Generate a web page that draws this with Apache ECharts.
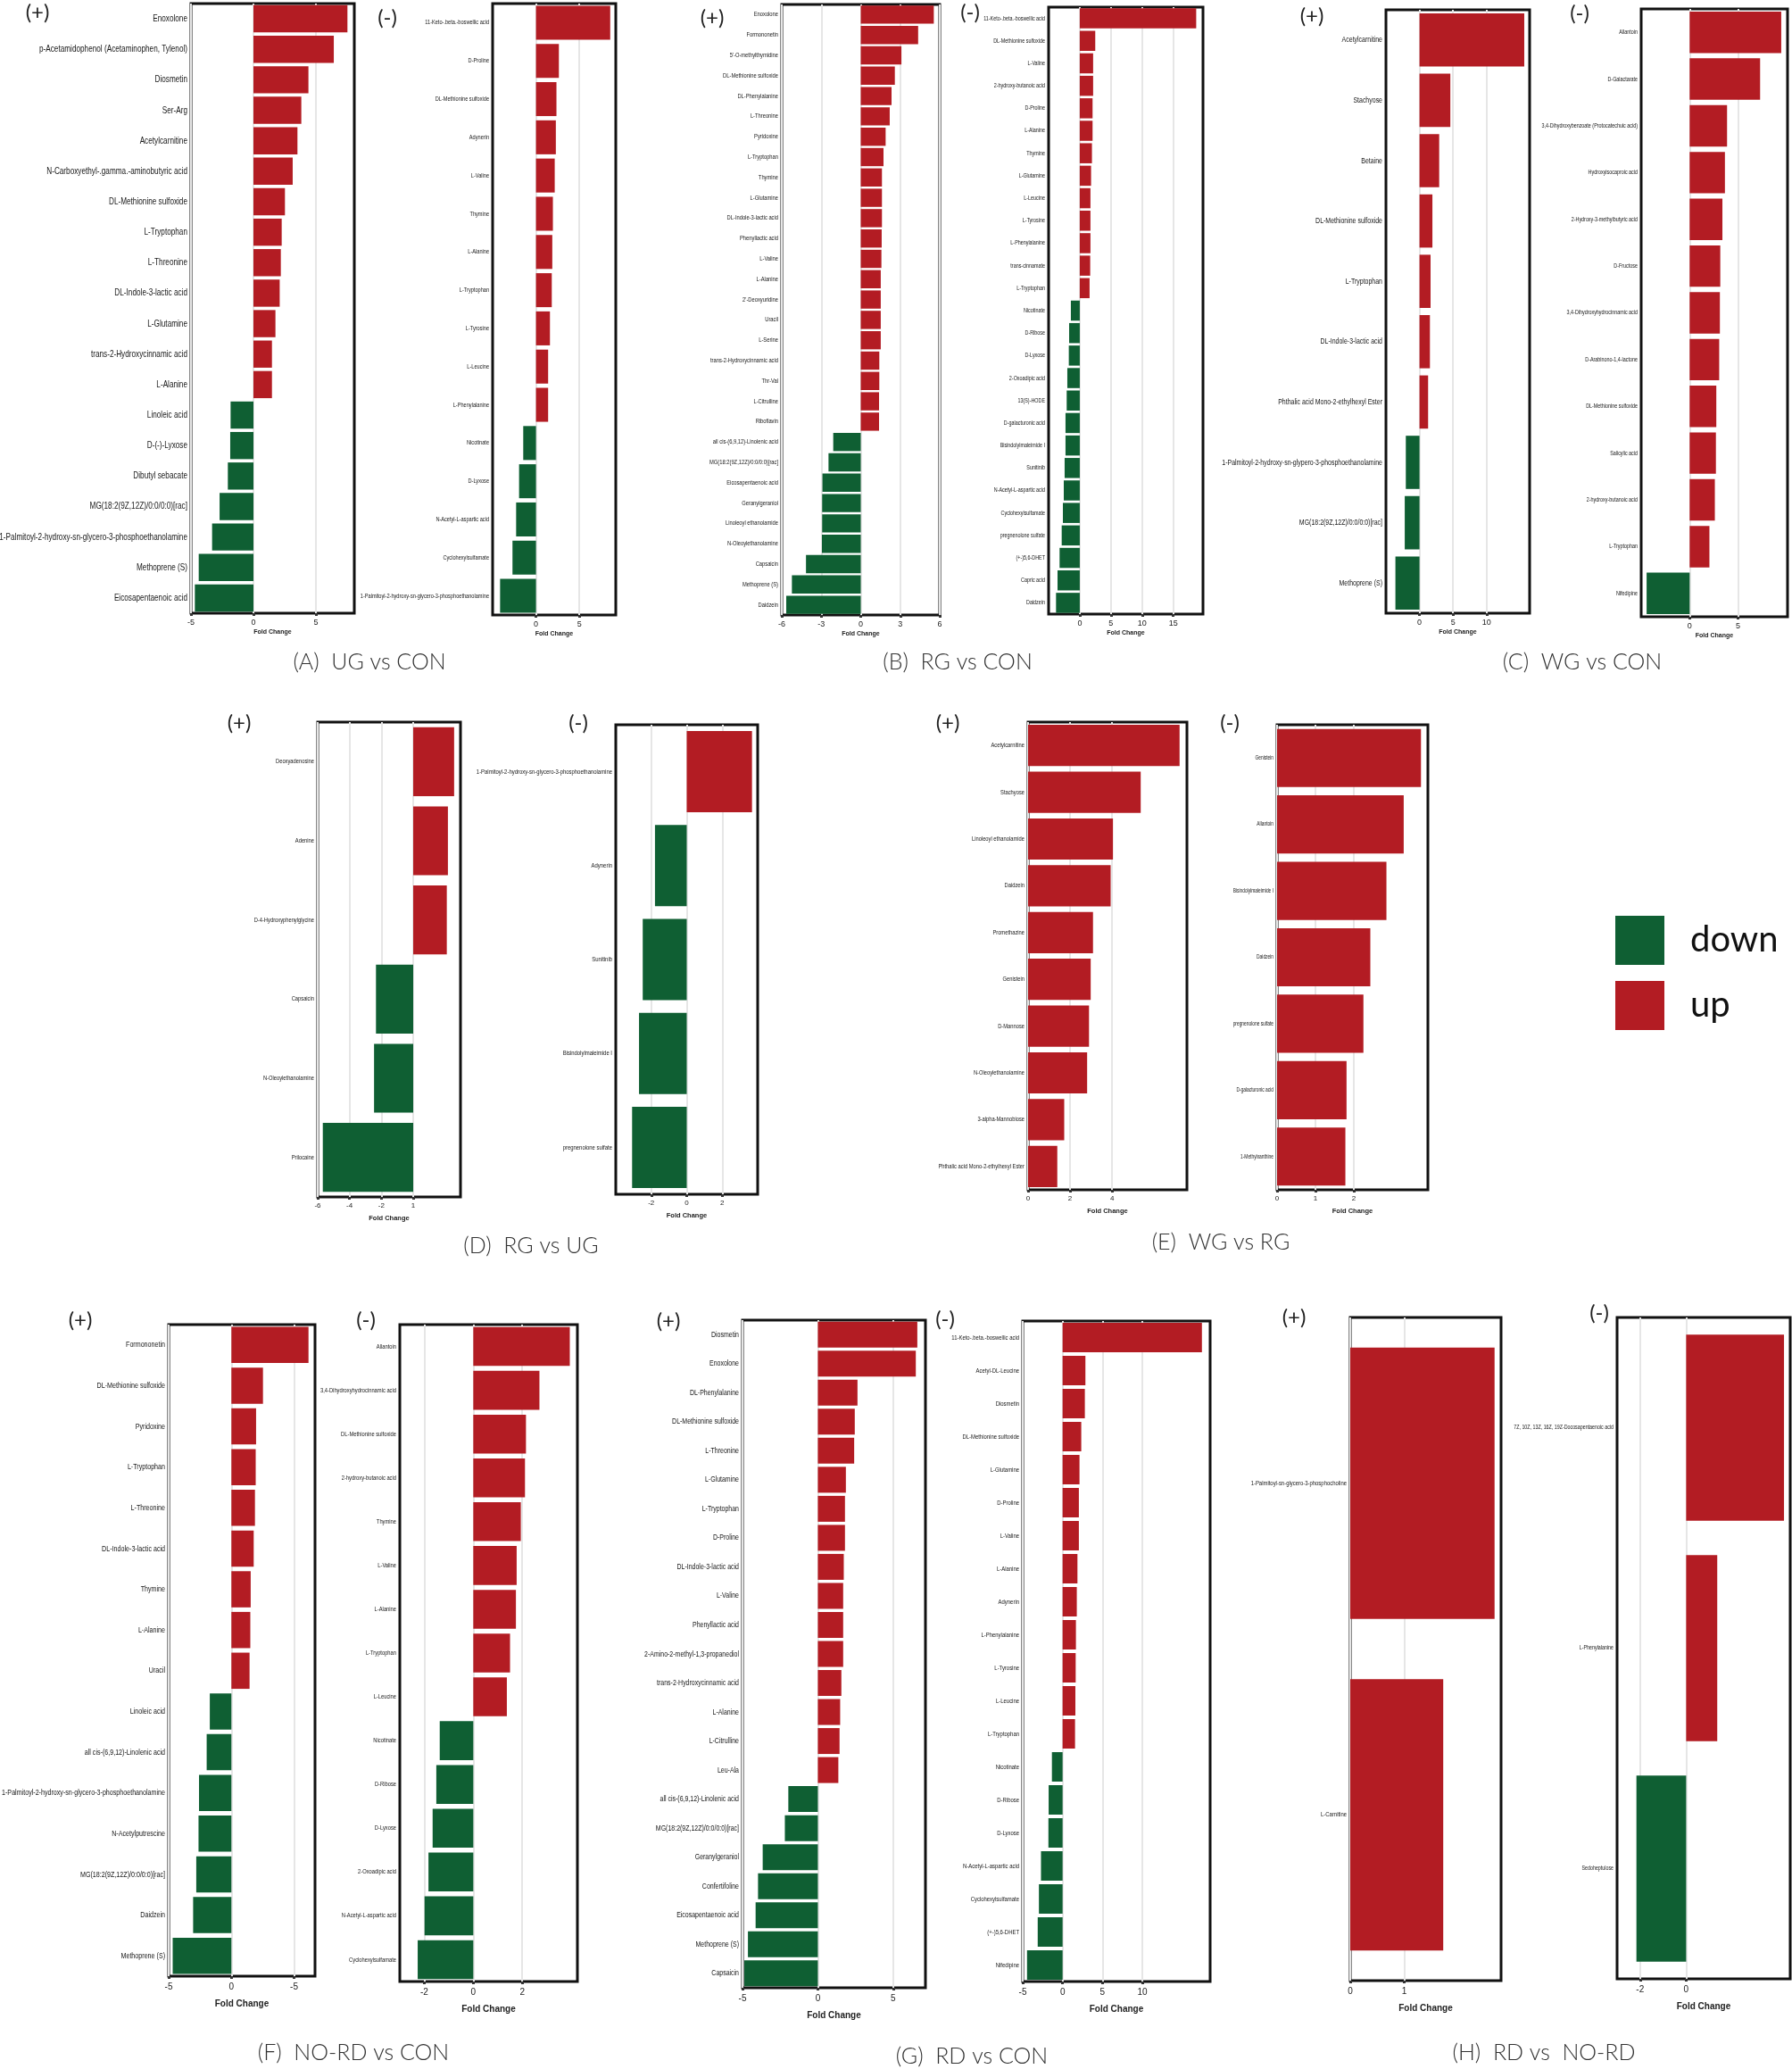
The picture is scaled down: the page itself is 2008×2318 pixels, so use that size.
<!DOCTYPE html>
<html>
<head>
<meta charset="utf-8">
<script src="https://cdn.jsdelivr.net/npm/echarts@6/dist/echarts.min.js"></script>
<style>
  html, body { margin: 0; padding: 0; background: #fff; }
  #main { width: 2008px; height: 2318px; }
</style>
</head>
<body>
<div id="main"></div>
<script>
// ---- data: fold change per metabolite ----
const ugConPosNames = ['Enoxolone', 'p-Acetamidophenol (Acetaminophen, Tylenol)', 'Diosmetin', 'Ser-Arg', 'Acetylcarnitine',
  'N-Carboxyethyl-.gamma.-aminobutyric acid', 'DL-Methionine sulfoxide', 'L-Tryptophan', 'L-Threonine', 'DL-Indole-3-lactic acid',
  'L-Glutamine', 'trans-2-Hydroxycinnamic acid', 'L-Alanine', 'Linoleic acid', 'D-(-)-Lyxose', 'Dibutyl sebacate',
  'MG(18:2(9Z,12Z)/0:0/0:0)[rac]', '1-Palmitoyl-2-hydroxy-sn-glycero-3-phosphoethanolamine', 'Methoprene (S)', 'Eicosapentaenoic acid'];
const ugConPosFC = [7.52, 6.43, 4.40, 3.83, 3.52, 3.14, 2.52, 2.26, 2.19, 2.10, 1.76, 1.48, 1.48, -1.83, -1.86, -2.05, -2.71, -3.31, -4.38, -4.69];

const ugConNegNames = ['11-Keto-.beta.-boswellic acid', 'D-Proline', 'DL-Methionine sulfoxide', 'Adynerin', 'L-Valine', 'Thymine',
  'L-Alanine', 'L-Tryptophan', 'L-Tyrosine', 'L-Leucine', 'L-Phenylalanine', 'Nicotinate', 'D-Lyxose', 'N-Acetyl-L-aspartic acid',
  'Cyclohexylsulfamate', '1-Palmitoyl-2-hydroxy-sn-glycero-3-phosphoethanolamine'];
const ugConNegFC = [8.56, 2.64, 2.36, 2.29, 2.16, 1.95, 1.88, 1.82, 1.61, 1.40, 1.40, -1.47, -1.95, -2.29, -2.71, -4.14];

const rgConPosNames = ['Enoxolone', 'Formononetin', "5'-O-methylthymidine", 'DL-Methionine sulfoxide', 'DL-Phenylalanine', 'L-Threonine',
  'Pyridoxine', 'L-Tryptophan', 'Thymine', 'L-Glutamine', 'DL-Indole-3-lactic acid', 'Phenyllactic acid', 'L-Valine', 'L-Alanine',
  "2'-Deoxyuridine", 'Uracil', 'L-Serine', 'trans-2-Hydroxycinnamic acid', 'Thr-Val', 'L-Citrulline', 'Riboflavin',
  'all cis-(6,9,12)-Linolenic acid', 'MG(18:2(9Z,12Z)/0:0/0:0)[rac]', 'Eicosapentaenoic acid', 'Geranylgeraniol',
  'Linoleoyl ethanolamide', 'N-Oleoylethanolamine', 'Capsaicin', 'Methoprene (S)', 'Daidzein'];
const rgConPosFC = [5.55, 4.36, 3.09, 2.59, 2.34, 2.20, 1.89, 1.73, 1.61, 1.61, 1.61, 1.59, 1.57, 1.52, 1.52, 1.52, 1.52, 1.41, 1.41, 1.39, 1.39,
  -2.09, -2.45, -2.91, -2.93, -2.93, -2.95, -4.16, -5.23, -5.66];

const rgConNegNames = ['11-Keto-.beta.-boswellic acid', 'DL-Methionine sulfoxide', 'L-Valine', '2-hydroxy-butanoic acid', 'D-Proline',
  'L-Alanine', 'Thymine', 'L-Glutamine', 'L-Leucine', 'L-Tyrosine', 'L-Phenylalanine', 'trans-cinnamate', 'L-Tryptophan', 'Nicotinate',
  'D-Ribose', 'D-Lyxose', '2-Oxoadipic acid', '13(S)-HODE', 'D-galacturonic acid', 'Bisindolylmaleimide I', 'Sunitinib',
  'N-Acetyl-L-aspartic acid', 'Cyclohexylsulfamate', 'pregnenolone sulfate', '(+-)5,6-DHET', 'Capric acid', 'Daidzein'];
const rgConNegFC = [18.67, 2.48, 2.14, 2.14, 2.05, 2.05, 1.95, 1.81, 1.71, 1.71, 1.71, 1.67, 1.57, -1.43, -1.71, -1.76, -2.00, -2.10, -2.29,
  -2.29, -2.43, -2.57, -2.71, -2.90, -3.24, -3.57, -3.81];

const wgConPosNames = ['Acetylcarnitine', 'Stachyose', 'Betaine', 'DL-Methionine sulfoxide', 'L-Tryptophan', 'DL-Indole-3-lactic acid',
  'Phthalic acid Mono-2-ethylhexyl Ester', '1-Palmitoyl-2-hydroxy-sn-glypero-3-phosphoethanolamine', 'MG(18:2(9Z,12Z)/0:0/0:0)[rac]', 'Methoprene (S)'];
const wgConPosFC = [15.6, 4.59, 2.93, 1.92, 1.65, 1.55, 1.28, -2.04, -2.20, -3.59];

const wgConNegNames = ['Allantoin', 'D-Galactarate', '3,4-Dihydroxybenzoate (Protocatechuic acid)', 'Hydroxyisocaproic acid',
  '2-Hydroxy-3-methylbutyric acid', 'D-Fructose', '3,4-Dihydroxyhydrocinnamic acid', 'D-Arabinono-1,4-lactone', 'DL-Methionine sulfoxide',
  'Salicylic acid', '2-hydroxy-butanoic acid', 'L-Tryptophan', 'Nifedipine'];
const wgConNegFC = [9.45, 7.27, 3.86, 3.64, 3.38, 3.16, 3.12, 3.05, 2.75, 2.71, 2.60, 2.04, -4.44];

const rgUgPosNames = ['Deoxyadenosine', 'Adenine', 'D-4-Hydroxyphenylglycine', 'Capsaicin', 'N-Oleoylethanolamine', 'Prilocaine'];
const rgUgPosFC = [2.57, 2.18, 2.11, -2.34, -2.46, -5.68];

const rgUgNegNames = ['1-Palmitoyl-2-hydroxy-sn-glycero-3-phosphoethanolamine', 'Adynerin', 'Sunitinib', 'Bisindolylmaleimide I', 'pregnenolone sulfate'];
const rgUgNegFC = [3.68, -1.79, -2.48, -2.69, -3.08];

const wgRgPosNames = ['Acetylcarnitine', 'Stachyose', 'Linoleoyl ethanolamide', 'Daidzein', 'Promethazine', 'Genistein', 'D-Mannose',
  'N-Oleoylethanolamine', '3-alpha-Mannobiose', 'Phthalic acid Mono-2-ethylhexyl Ester'];
const wgRgPosFC = [7.21, 5.36, 4.04, 3.93, 3.09, 2.98, 2.90, 2.81, 1.72, 1.39];

const wgRgNegNames = ['Genistein', 'Allantoin', 'Bisindolylmaleimide I', 'Daidzein', 'pregnenolone sulfate', 'D-galacturonic acid', '1-Methylxanthine'];
const wgRgNegFC = [3.75, 3.30, 2.85, 2.43, 2.25, 1.81, 1.78];

const nordConPosNames = ['Formononetin', 'DL-Methionine sulfoxide', 'Pyridoxine', 'L-Tryptophan', 'L-Threonine', 'DL-Indole-3-lactic acid',
  'Thymine', 'L-Alanine', 'Uracil', 'Linoleic acid', 'all cis-(6,9,12)-Linolenic acid', '1-Palmitoyl-2-hydroxy-sn-glycero-3-phosphoethanolamine',
  'N-Acetylputrescine', 'MG(18:2(9Z,12Z)/0:0/0:0)[rac]', 'Daidzein', 'Methoprene (S)'];
const nordConPosFC = [6.15, 2.52, 1.97, 1.94, 1.88, 1.78, 1.54, 1.51, 1.45, -1.72, -1.97, -2.58, -2.62, -2.80, -3.05, -4.68];

const nordConNegNames = ['Allantoin', '3,4-Dihydroxyhydrocinnamic acid', 'DL-Methionine sulfoxide', '2-hydroxy-butanoic acid', 'Thymine',
  'L-Valine', 'L-Alanine', 'L-Tryptophan', 'L-Leucine', 'Nicotinate', 'D-Ribose', 'D-Lyxose', '2-Oxoadipic acid',
  'N-Acetyl-L-aspartic acid', 'Cyclohexylsulfamate'];
const nordConNegFC = [3.94, 2.70, 2.15, 2.11, 1.94, 1.77, 1.74, 1.50, 1.37, -1.37, -1.51, -1.66, -1.83, -1.99, -2.27];

const rdConPosNames = ['Diosmetin', 'Enoxolone', 'DL-Phenylalanine', 'DL-Methionine sulfoxide', 'L-Threonine', 'L-Glutamine', 'L-Tryptophan',
  'D-Proline', 'DL-Indole-3-lactic acid', 'L-Valine', 'Phenyllactic acid', '2-Amino-2-methyl-1,3-propanediol', 'trans-2-Hydroxycinnamic acid',
  'L-Alanine', 'L-Citrulline', 'Leu-Ala', 'all cis-(6,9,12)-Linolenic acid', 'MG(18:2(9Z,12Z)/0:0/0:0)[rac]', 'Geranylgeraniol',
  'Confertifoline', 'Eicosapentaenoic acid', 'Methoprene (S)', 'Capsaicin'];
const rdConPosFC = [6.60, 6.50, 2.63, 2.45, 2.41, 1.86, 1.80, 1.80, 1.72, 1.68, 1.68, 1.68, 1.56, 1.48, 1.44, 1.36, -1.96, -2.19, -3.66, -3.97,
  -4.13, -4.64, -4.88];

const rdConNegNames = ['11-Keto-.beta.-boswellic acid', 'Acetyl-DL-Leucine', 'Diosmetin', 'DL-Methionine sulfoxide', 'L-Glutamine', 'D-Proline',
  'L-Valine', 'L-Alanine', 'Adynerin', 'L-Phenylalanine', 'L-Tyrosine', 'L-Leucine', 'L-Tryptophan', 'Nicotinate', 'D-Ribose', 'D-Lyxose',
  'N-Acetyl-L-aspartic acid', 'Cyclohexylsulfamate', '(+-)5,6-DHET', 'Nifedipine'];
const rdConNegFC = [17.47, 2.86, 2.79, 2.34, 2.12, 2.04, 2.04, 1.86, 1.78, 1.67, 1.64, 1.60, 1.56, -1.34, -1.75, -1.78, -2.71, -2.97, -3.12, -4.46];

const rdNordPosNames = ['1-Palmitoyl-sn-glycero-3-phosphocholine', 'L-Carnitine'];
const rdNordPosFC = [2.67, 1.72];

const rdNordNegNames = ['7Z, 10Z, 13Z, 16Z, 19Z-Docosapentaenoic acid', 'L-Phenylalanine', 'Sedoheptulose'];
const rdNordNegFC = [4.25, 1.35, -2.16];

// tick labels as printed on each panel (some are printed oddly in the source)
const ticksAPos = [-5, 0, 5],       tickTextAPos = ['-5', '0', '5'];
const ticksANeg = [0, 5],           tickTextANeg = ['0', '5'];
const ticksBPos = [-6, -3, 0, 3, 6], tickTextBPos = ['-6', '-3', '0', '3', '6'];
const ticksBNeg = [0, 5, 10, 15],   tickTextBNeg = ['0', '5', '10', '15'];
const ticksCPos = [0, 5, 10],       tickTextCPos = ['0', '5', '10'];
const ticksCNeg = [0, 5],           tickTextCNeg = ['0', '5'];
const ticksDPos = [-6, -4, -2, 0],  tickTextDPos = ['-6', '-4', '-2', '1'];
const ticksDNeg = [-2, 0, 2],       tickTextDNeg = ['-2', '0', '2'];
const ticksEPos = [0, 2, 4],        tickTextEPos = ['0', '2', '4'];
const ticksENeg = [0, 1, 2],        tickTextENeg = ['0', '1', '2'];
const ticksFPos = [-5, 0, 5],       tickTextFPos = ['-5', '0', '-5'];
const ticksFNeg = [-2, 0, 2],       tickTextFNeg = ['-2', '0', '2'];
const ticksGPos = [-5, 0, 5],       tickTextGPos = ['-5', '0', '5'];
const ticksGNeg = [-5, 0, 5, 10],   tickTextGNeg = ['-5', '0', '5', '10'];
const ticksHPos = [0, 1],           tickTextHPos = ['0', '1'];
const ticksHNeg = [-2, 0],          tickTextHNeg = ['-2', '0'];

const RED = '#B31C23';
const GREEN = '#0F5F33';
const SANS = "'Liberation Sans', Arial, sans-serif";
const ROUND = "Lato, 'Noto Sans', sans-serif";
const SQUEEZE = 0.76;   // no narrow font installed, so labels get squeezed sideways

// layout: box = [x0, x1, y0, y1] in page px
const panels = [
  { names: ugConPosNames, fc: ugConPosFC, ticks: ticksAPos, tickText: tickTextAPos, box: [214, 397, 4, 687], min: -5, max: 8.07, step: 1.25, fs: 10.8, row: 1, mark: '(+)', markAt: [42, 14] },
  { names: ugConNegNames, fc: ugConNegFC, ticks: ticksANeg, tickText: tickTextANeg, box: [552, 690, 4, 689], min: -5, max: 9.2, step: 2.5, fs: 7.4, row: 1, mark: '(-)', markAt: [434, 20] },
  { names: rgConPosNames, fc: rgConPosFC, ticks: ticksBPos, tickText: tickTextBPos, box: [876, 1053, 5, 689], min: -6, max: 6, step: 1.5, fs: 7.6, row: 1, mark: '(+)', markAt: [798, 20] },
  { names: rgConNegNames, fc: rgConNegFC, ticks: ticksBNeg, tickText: tickTextBNeg, box: [1175, 1348, 8, 688], min: -5, max: 19.76, step: 2.5, fs: 7.1, row: 1, mark: '(-)', markAt: [1087, 14] },
  { names: wgConPosNames, fc: wgConPosFC, ticks: ticksCPos, tickText: tickTextCPos, box: [1553, 1714, 11, 687], min: -5, max: 16.4, step: 2.5, fs: 9.2, row: 1, mark: '(+)', markAt: [1470, 18] },
  { names: wgConNegNames, fc: wgConNegFC, ticks: ticksCNeg, tickText: tickTextCNeg, box: [1839, 2003, 10, 691], min: -5, max: 10.1, step: 2.5, fs: 7.1, row: 1, mark: '(-)', markAt: [1770, 15] },
  { names: rgUgPosNames, fc: rgUgPosFC, ticks: ticksDPos, tickText: tickTextDPos, box: [356, 516, 809, 1341], min: -6, max: 2.97, step: 1, fs: 7.6, row: 2, mark: '(+)', markAt: [268, 810] },
  { names: rgUgNegNames, fc: rgUgNegFC, ticks: ticksDNeg, tickText: tickTextDNeg, box: [690, 849, 812, 1338], min: -4, max: 4, step: 1, fs: 7.8, row: 2, mark: '(-)', markAt: [648, 810] },
  { names: wgRgPosNames, fc: wgRgPosFC, ticks: ticksEPos, tickText: tickTextEPos, box: [1152, 1330, 809, 1333], min: 0, max: 7.56, step: 1, fs: 7.6, row: 2, mark: '(+)', markAt: [1062, 810] },
  { names: wgRgNegNames, fc: wgRgNegFC, ticks: ticksENeg, tickText: tickTextENeg, box: [1431, 1600, 812, 1333], min: 0, max: 3.93, step: 0.5, fs: 6.4, row: 2, mark: '(-)', markAt: [1378, 810] },
  { names: nordConPosNames, fc: nordConPosFC, ticks: ticksFPos, tickText: tickTextFPos, box: [189, 353, 1484, 2214], min: -5, max: 6.67, step: 1.25, fs: 9.4, row: 3, mark: '(+)', markAt: [90, 1479] },
  { names: nordConNegNames, fc: nordConNegFC, ticks: ticksFNeg, tickText: tickTextFNeg, box: [448, 647, 1484, 2220], min: -3, max: 4.25, step: 1, fs: 7.6, row: 3, mark: '(-)', markAt: [410, 1479] },
  { names: rdConPosNames, fc: rdConPosFC, ticks: ticksGPos, tickText: tickTextGPos, box: [832, 1037, 1479, 2227], min: -5, max: 7.14, step: 1.25, fs: 9.2, row: 3, mark: '(+)', markAt: [749, 1480] },
  { names: rdConNegNames, fc: rdConNegFC, ticks: ticksGNeg, tickText: tickTextGNeg, box: [1146, 1356, 1480, 2220], min: -5, max: 18.5, step: 2.5, fs: 7.8, row: 3, mark: '(-)', markAt: [1059, 1478] },
  { names: rdNordPosNames, fc: rdNordPosFC, ticks: ticksHPos, tickText: tickTextHPos, box: [1513, 1682, 1476, 2219], min: 0, max: 2.79, step: 0.5, fs: 7.8, row: 3, mark: '(+)', markAt: [1450, 1476] },
  { names: rdNordNegNames, fc: rdNordNegFC, ticks: ticksHNeg, tickText: tickTextHNeg, box: [1812, 2006, 1476, 2217], min: -3, max: 4.52, step: 1, fs: 7, row: 3, mark: '(-)', markAt: [1792, 1471] }
];

const titles = [
  { text: '(A)  UG vs CON', at: [414, 742] },
  { text: '(B)  RG vs CON', at: [1073, 742] },
  { text: '(C)  WG vs CON', at: [1773, 742] },
  { text: '(D)  RG vs UG', at: [595, 1396] },
  { text: '(E)  WG vs RG', at: [1368, 1392] },
  { text: '(F)  NO-RD vs CON', at: [396, 2300] },
  { text: '(G)  RD vs CON', at: [1089, 2304] },
  { text: '(H)  RD vs  NO-RD', at: [1730, 2300] }
];

// tick / axis-name sizes per row
const rowStyle = {
  1: { tickFs: 9, tickMargin: 6, nameFs: 7, nameGap: 18 },
  2: { tickFs: 8, tickMargin: 6, nameFs: 7.5, nameGap: 20 },
  3: { tickFs: 10, tickMargin: 7, nameFs: 10, nameGap: 26 }
};

const grids = [], xAxes = [], yAxes = [], series = [];

panels.forEach((p, i) => {
  const [x0, x1, y0, y1] = p.box;
  const rs = rowStyle[p.row];
  const n = p.names.length;
  // ggplot-like: bar = 0.9 of a band, with 0.6 band expansion at both ends
  const gap = Math.round((1 - 0.9 * n / (n + 0.2)) * 1000) / 10 + '%';

  grids.push({
    left: x0, top: y0, width: x1 - x0, height: y1 - y0,
    containLabel: false, outerBoundsMode: 'none',
    show: true, borderColor: '#111', borderWidth: 3, backgroundColor: '#fff'
  });

  xAxes.push({
    gridIndex: i,
    type: 'value',
    min: p.min, max: p.max, interval: p.step,
    axisLine: { show: false },
    axisTick: { show: true, customValues: p.ticks, length: 3, lineStyle: { color: '#333', width: 3 } },
    axisLabel: {
      fontSize: rs.tickFs, fontFamily: SANS, color: '#222', margin: rs.tickMargin,
      showMinLabel: true, showMaxLabel: true, hideOverlap: false,
      formatter: (v) => {
        const k = p.ticks.findIndex(t => Math.abs(t - v) < 1e-6);
        return k >= 0 ? p.tickText[k] : '';
      }
    },
    splitLine: { show: true, lineStyle: { color: '#e6e6e6', width: 2 } },
    name: 'Fold Change', nameLocation: 'middle', nameGap: rs.nameGap,
    nameTextStyle: { fontSize: rs.nameFs, fontFamily: SANS, fontWeight: 'bold', color: '#222' }
  });

  yAxes.push({
    gridIndex: i,
    type: 'category',
    data: p.names,
    inverse: true,
    axisLine: { show: false },
    axisTick: { show: false },
    splitLine: { show: false },
    axisLabel: { show: false }
  });

  series.push({
    name: 'up', type: 'bar', xAxisIndex: i, yAxisIndex: i,
    data: p.fc.map(v => (v > 0 ? v : null)),
    barGap: '-100%', barCategoryGap: gap,
    itemStyle: { color: RED }, silent: true
  });
  series.push({
    name: 'down', type: 'bar', xAxisIndex: i, yAxisIndex: i,
    data: p.fc.map(v => (v < 0 ? v : null)),
    barGap: '-100%', barCategoryGap: gap,
    itemStyle: { color: GREEN }, silent: true
  });
});

const chart = echarts.init(document.getElementById('main'), null, { renderer: 'canvas' });
chart.setOption({
  animation: false,
  backgroundColor: '#fff',
  grid: grids,
  xAxis: xAxes,
  yAxis: yAxes,
  series: series,
  legend: {
    data: ['down', 'up'],
    orient: 'vertical',
    left: 1805, top: 1021,
    icon: 'rect',
    itemWidth: 55, itemHeight: 55, itemGap: 18,
    selectedMode: false,
    textStyle: { fontSize: 40, fontFamily: ROUND, color: '#111', padding: [0, 0, 0, 24] }
  }
});

// category labels: placed with the axis' own scale, drawn squeezed to look condensed
const graphics = [];
panels.forEach((p, i) => {
  p.names.forEach((nm, k) => {
    const py = chart.convertToPixel({ yAxisIndex: i }, k);
    graphics.push({
      type: 'text', x: p.box[0] - 4, y: py, scaleX: SQUEEZE, silent: true,
      style: { text: nm, fontSize: p.fs, fontFamily: SANS, fill: '#161616', align: 'right', verticalAlign: 'middle' }
    });
  });
  graphics.push({
    type: 'text', x: p.markAt[0], y: p.markAt[1], silent: true,
    style: { text: p.mark, fontSize: 24, fontFamily: ROUND, fill: '#222', align: 'center', verticalAlign: 'middle' }
  });
});
titles.forEach(t => {
  graphics.push({
    type: 'text', x: t.at[0], y: t.at[1], silent: true,
    style: { text: t.text, fontSize: 25, fontFamily: ROUND, fontWeight: 300, fill: '#333', align: 'center', verticalAlign: 'middle' }
  });
});
chart.setOption({ graphic: graphics });
</script>
</body>
</html>
